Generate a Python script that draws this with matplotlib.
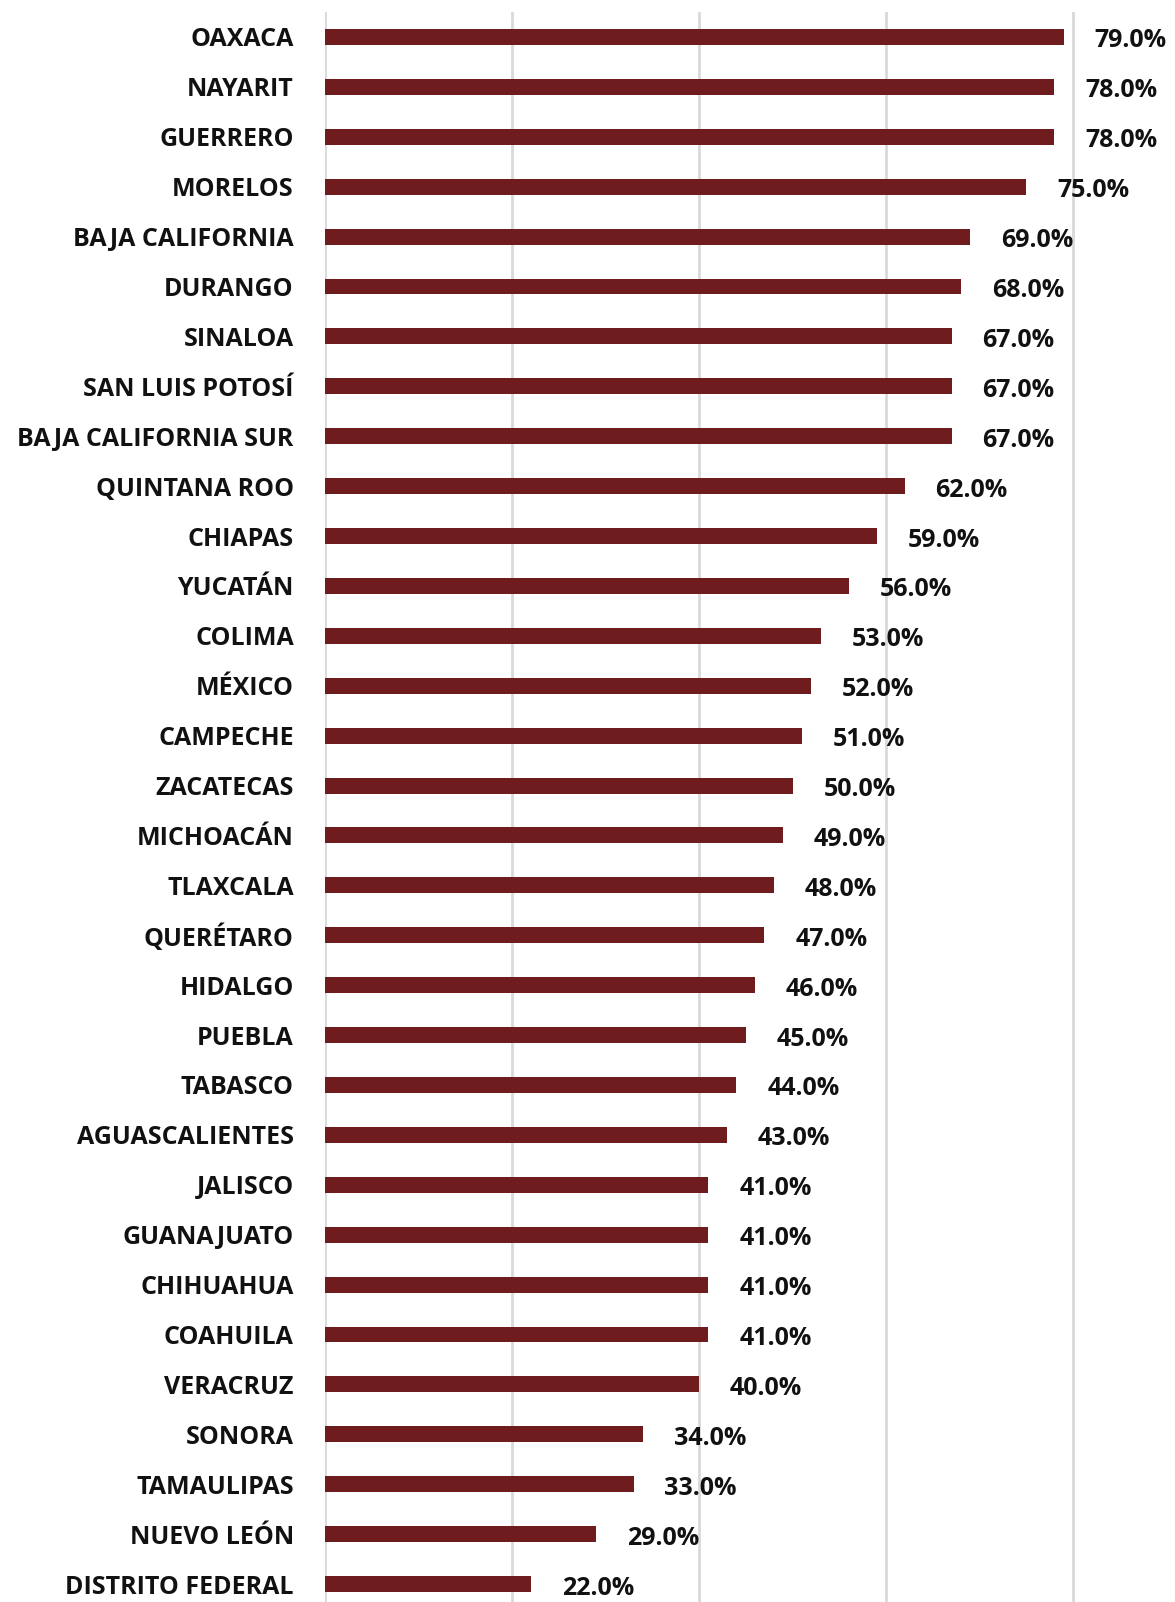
import matplotlib.pyplot as plt

estados = ["OAXACA", "NAYARIT", "GUERRERO", "MORELOS", "BAJA CALIFORNIA", "DURANGO",
           "SINALOA", "SAN LUIS POTOSÍ", "BAJA CALIFORNIA SUR", "QUINTANA ROO", "CHIAPAS",
           "YUCATÁN", "COLIMA", "MÉXICO", "CAMPECHE", "ZACATECAS", "MICHOACÁN", "TLAXCALA",
           "QUERÉTARO", "HIDALGO", "PUEBLA", "TABASCO", "AGUASCALIENTES", "JALISCO",
           "GUANAJUATO", "CHIHUAHUA", "COAHUILA", "VERACRUZ", "SONORA", "TAMAULIPAS",
           "NUEVO LEÓN", "DISTRITO FEDERAL"]
valores = [79, 78, 78, 75, 69, 68, 67, 67, 67, 62, 59, 56, 53, 52, 51, 50, 49, 48,
           47, 46, 45, 44, 43, 41, 41, 41, 41, 40, 34, 33, 29, 22]

color_barra = "#6e1c1e"
fuente = "Open Sans"

fig = plt.figure(figsize=(11.75, 16.02), dpi=100)
ax = fig.add_axes([0.2766, 0, 0.7234, 0.9925])

pos = list(range(len(estados)))
ax.barh(pos, valores, height=0.32, color=color_barra, zorder=3)

for y, v in zip(pos, valores):
    ax.text(v + 3.3, y + 0.08, f"{v:.1f}%", va="center", ha="left",
            fontsize=18, fontweight="bold", family=fuente, color="#111111")

ax.set_xlim(0, 90.9)
ax.set_ylim(31.36, -0.5)
ax.set_xticks([0, 20, 40, 60, 80])
ax.xaxis.grid(True, color="#d9d9d9", linewidth=2, zorder=0)
ax.tick_params(axis="x", bottom=False, labelbottom=False)
ax.tick_params(axis="y", left=False, pad=19)
ax.set_yticks(pos)
ax.set_yticklabels(estados, fontsize=18, fontweight="bold", family=fuente, color="#111111")
for s in ax.spines.values():
    s.set_visible(False)

fig.savefig("out.png", dpi=100)
